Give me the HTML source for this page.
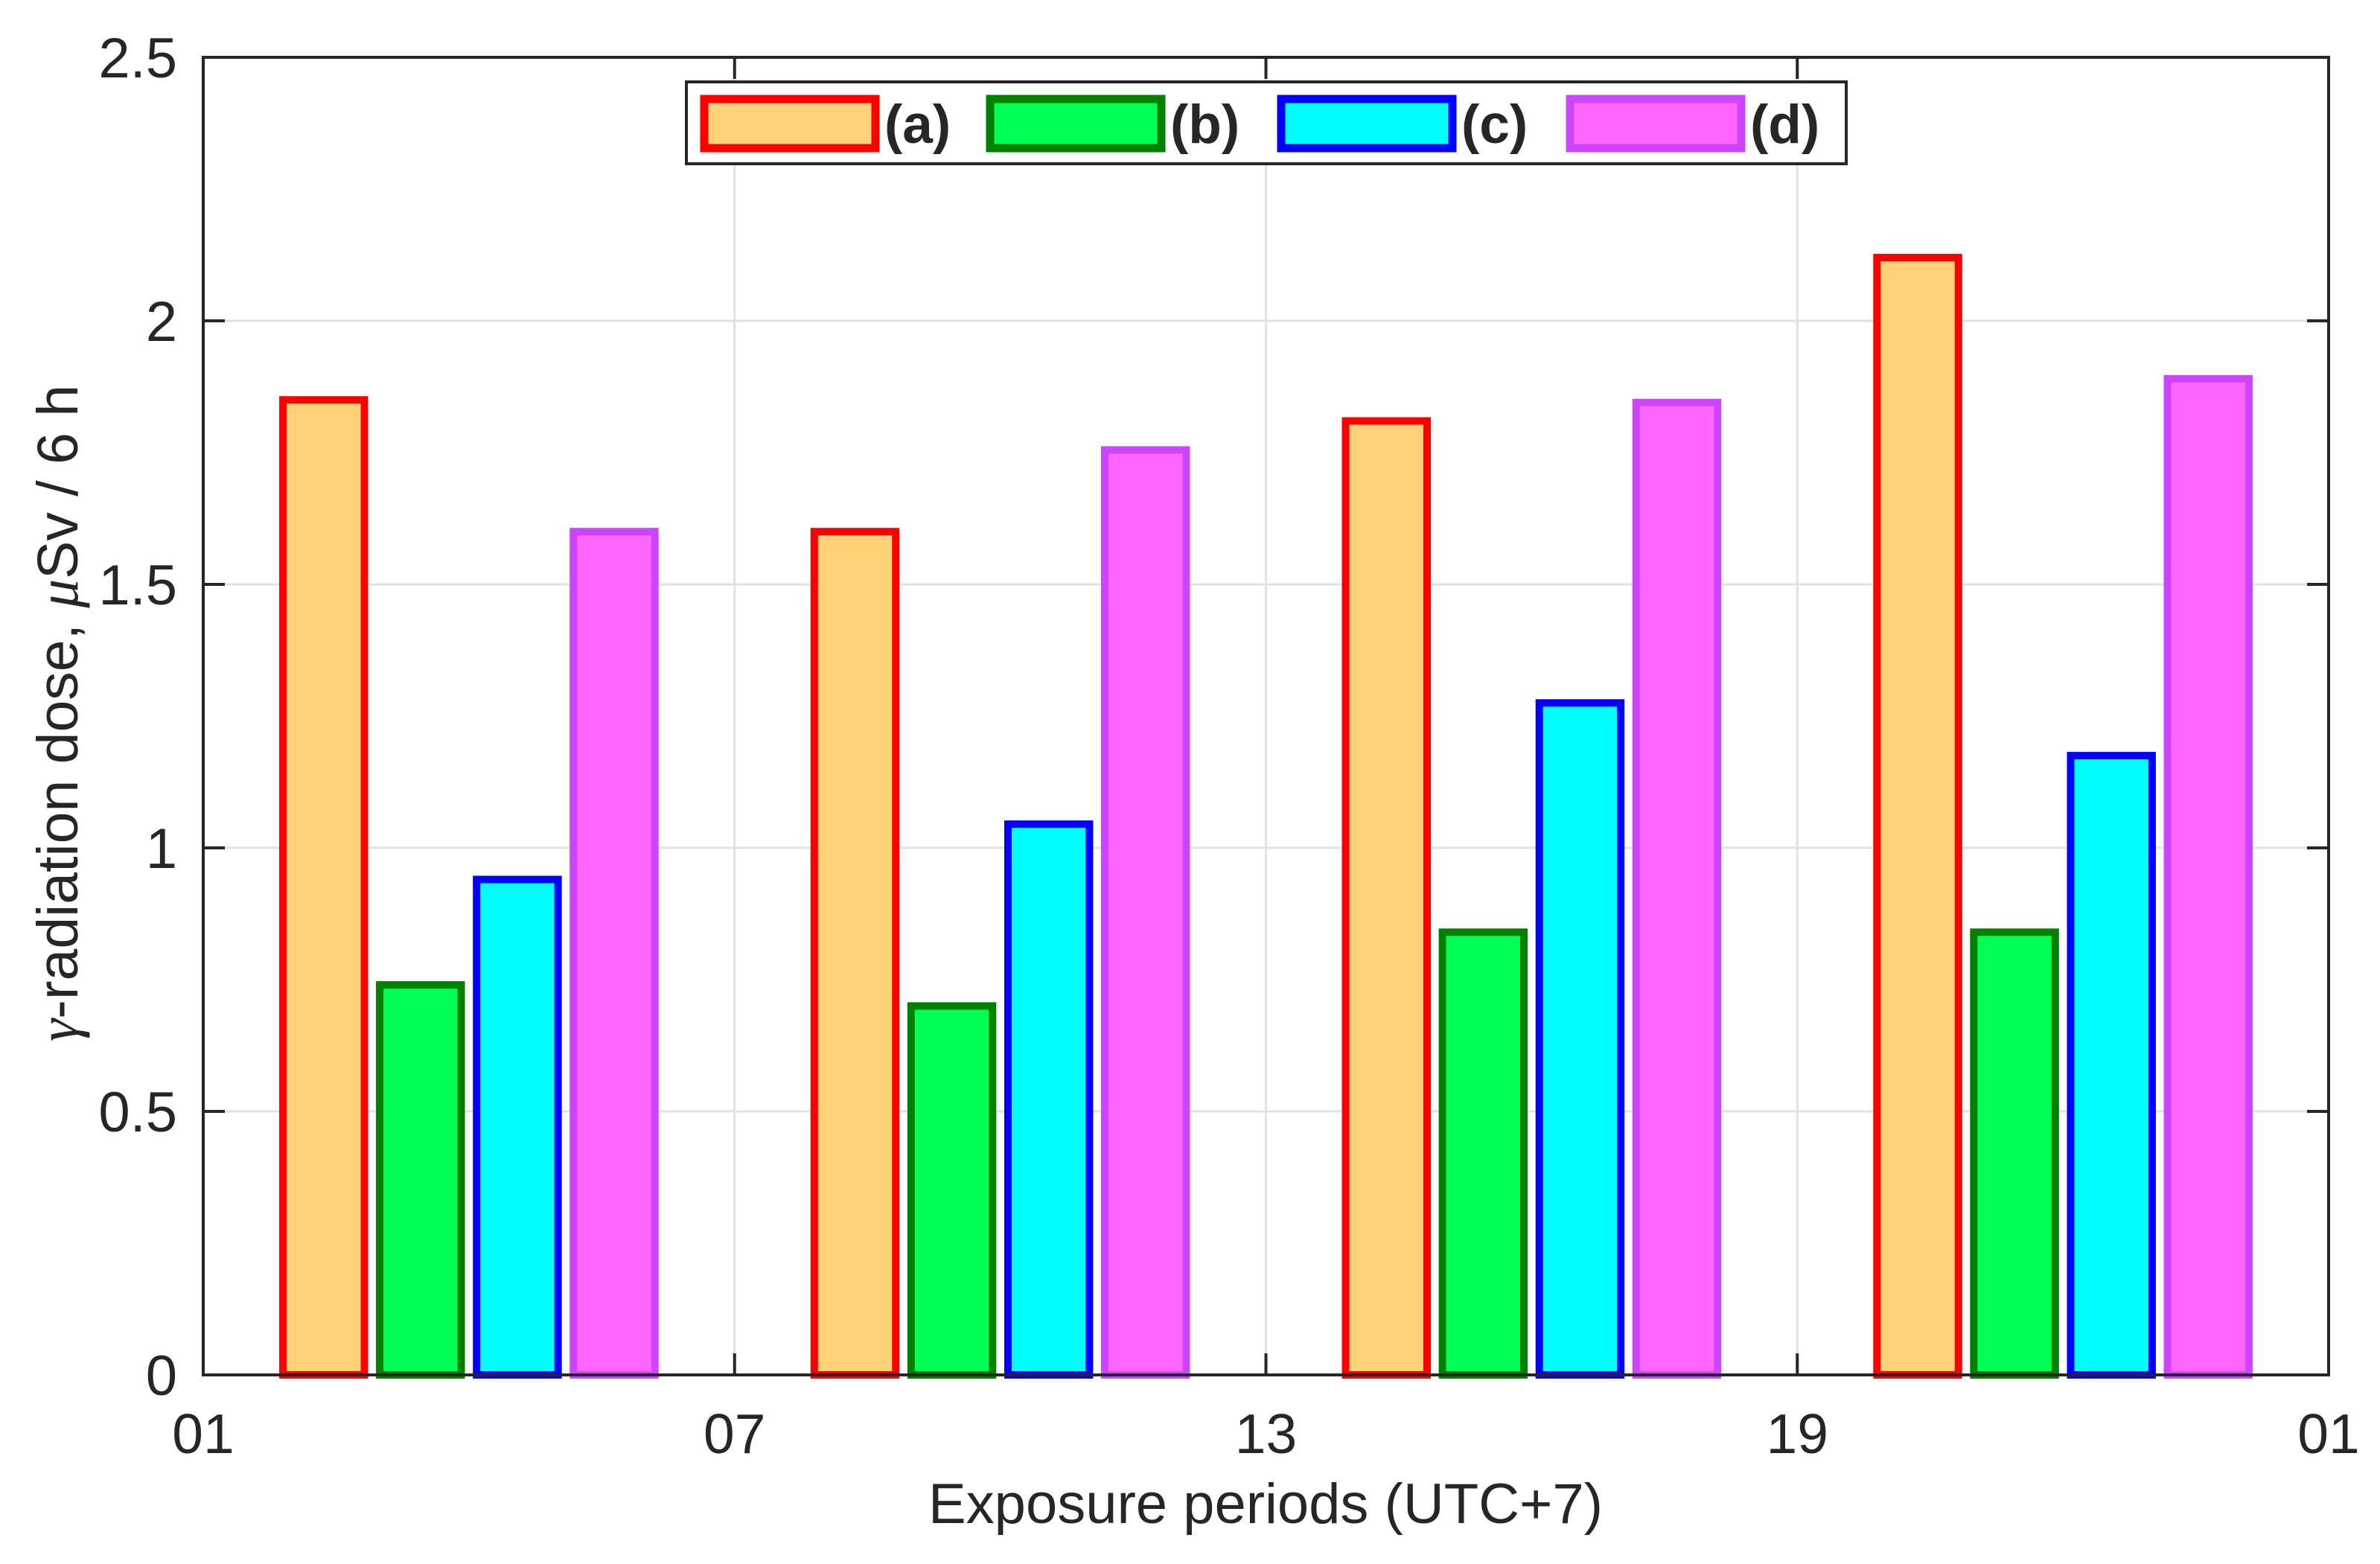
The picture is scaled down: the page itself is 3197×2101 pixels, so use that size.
<!DOCTYPE html>
<html><head><meta charset="utf-8"><style>
html,body{margin:0;padding:0;background:#fff}
svg{display:block}
text{font-family:"Liberation Sans",Arial,sans-serif;fill:#262626}
</style></head><body>
<svg id="chart" width="3197" height="2101" viewBox="0 0 3197 2101" xmlns="http://www.w3.org/2000/svg">
<g id="grid"></g>
<g id="bars"></g>
<g id="axes"></g>
<g id="legend"></g>
</svg>
<script>
const periods = [4, 10, 16, 22];
const seriesA = [1.85, 1.60, 1.81, 2.12];
const seriesB = [0.74, 0.70, 0.84, 0.84];
const seriesC = [0.94, 1.045, 1.275, 1.175];
const seriesD = [1.60, 1.755, 1.845, 1.89];
const seriesLabels = ['(a)', '(b)', '(c)', '(d)'];
const xTickValues = [1, 7, 13, 19, 25];
const xTickLabels = ['01', '07', '13', '19', '01'];
const yTickValues = [0, 0.5, 1, 1.5, 2, 2.5];
const yTickLabels = ['0', '0.5', '1', '1.5', '2', '2.5'];

const NS = 'http://www.w3.org/2000/svg';
const L = 273, R = 3128, T = 77, B = 1847;
const xs = h => L + (h - 1) / 24 * (R - L);
const ys = v => B - v / 2.5 * (B - T);
function mk(tag, attrs, parent) {
  const e = document.createElementNS(NS, tag);
  for (const k in attrs) e.setAttribute(k, attrs[k]);
  parent.appendChild(e);
  return e;
}
const styles = [
  {fill: '#FFD277', stroke: '#FF0000'},
  {fill: '#00FF55', stroke: '#008000'},
  {fill: '#00FFFF', stroke: '#0000FF'},
  {fill: '#FF66FF', stroke: '#CC44FF'}
];
const series = [seriesA, seriesB, seriesC, seriesD];
const offsets = [-1.64, -0.547, 0.547, 1.64];
const bw = 0.92;

const grid = document.getElementById('grid');
xTickValues.slice(1, -1).forEach(v => {
  const l = mk('line', {x1: xs(v), x2: xs(v), y1: T, y2: B, stroke: '#e2e2e2', 'stroke-width': 3}, grid);
  
  
});
yTickValues.slice(1, -1).forEach(v => {
  const l = mk('line', {x1: L, x2: R, y1: ys(v), y2: ys(v), stroke: '#e2e2e2', 'stroke-width': 3}, grid);
  
  
});

const bars = document.getElementById('bars');
series.forEach((s, si) => {
  s.forEach((v, i) => {
    const c = periods[i] + offsets[si];
    const x0 = xs(c - bw / 2), x1 = xs(c + bw / 2);
    const r = mk('rect', {x: x0, y: ys(v), width: x1 - x0, height: ys(0) - ys(v),
      fill: styles[si].fill, stroke: styles[si].stroke, 'stroke-width': 10}, bars);
    
    
  });
});

const axes = document.getElementById('axes');
const box = mk('rect', {x: L, y: T, width: R - L, height: B - T, fill: 'none', stroke: '#262626', 'stroke-width': 4}, axes);


xTickValues.forEach((v, i) => {
  mk('line', {x1: xs(v), x2: xs(v), y1: B, y2: B - 29, stroke: '#262626', 'stroke-width': 4}, axes);
  mk('line', {x1: xs(v), x2: xs(v), y1: T, y2: T + 29, stroke: '#262626', 'stroke-width': 4}, axes);
  const t = mk('text', {x: xs(v), y: 1952, 'font-size': 75, 'text-anchor': 'middle'}, axes);
  t.textContent = xTickLabels[i];
  
  
});
yTickValues.forEach((v, i) => {
  mk('line', {x1: L, x2: L + 29, y1: ys(v), y2: ys(v), stroke: '#262626', 'stroke-width': 4}, axes);
  mk('line', {x1: R, x2: R - 29, y1: ys(v), y2: ys(v), stroke: '#262626', 'stroke-width': 4}, axes);
  const t = mk('text', {x: 238, y: ys(v) + 27, 'font-size': 76, 'text-anchor': 'end'}, axes);
  t.textContent = yTickLabels[i];
  
  
});
const xt = mk('text', {x: 1700, y: 2046, 'font-size': 76, 'text-anchor': 'middle'}, axes);
xt.textContent = 'Exposure periods (UTC+7)';


const yt = mk('text', {x: 0, y: 0, 'font-size': 77, 'text-anchor': 'middle', transform: 'translate(104,958) rotate(-90)'}, axes);
yt.innerHTML = '<tspan font-family="Liberation Serif" font-style="italic">γ</tspan>-radiation dose, <tspan font-family="Liberation Serif" font-style="italic">μ</tspan>Sv / 6 h';



const lg = document.getElementById('legend');
const lb = mk('rect', {x: 922, y: 110, width: 1558, height: 110, fill: '#fff', stroke: '#262626', 'stroke-width': 4}, lg);


const patchX = [946, 1330, 1721, 2109];
seriesLabels.forEach((lab, i) => {
  const p = mk('rect', {x: patchX[i], y: 133, width: 230, height: 66, fill: styles[i].fill, stroke: styles[i].stroke, 'stroke-width': 11}, lg);
  
  
  const t = mk('text', {x: patchX[i] + 242, y: 192, 'font-size': 73, 'font-weight': 'bold'}, lg);
  t.textContent = lab;
  
  
});
</script>
</body></html>
